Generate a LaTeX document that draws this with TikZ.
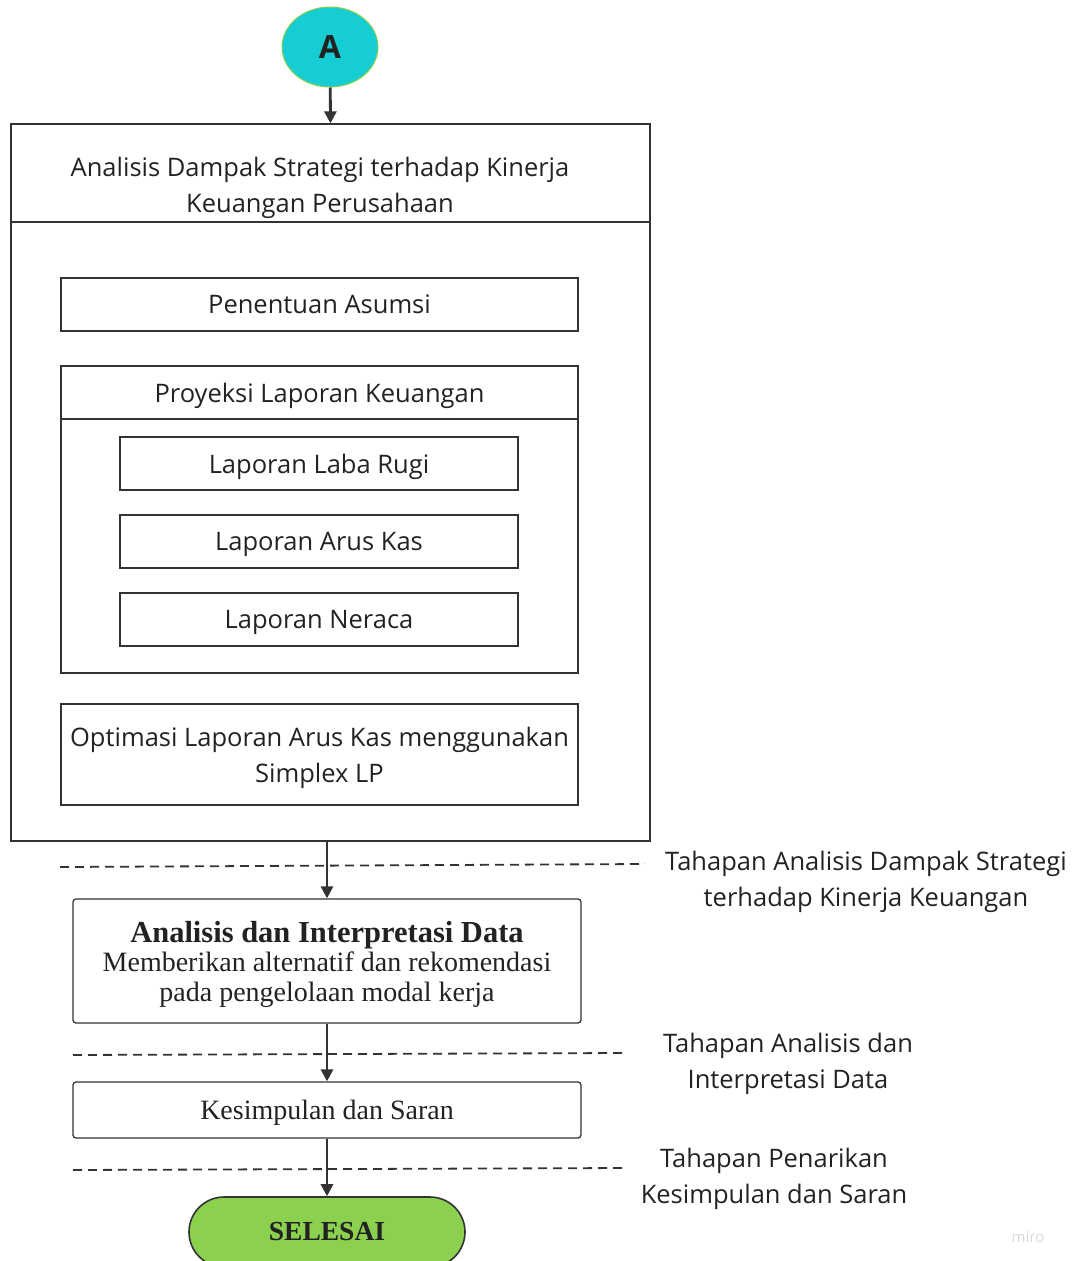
\documentclass[tikz,border=0pt]{standalone}
\usepackage{fontspec}
\setmainfont{Open Sans}
\newfontfamily\boxserif{Liberation Serif}
\usetikzlibrary{arrows.meta, positioning, shapes.geometric, calc}
\definecolor{startcyan}{HTML}{17CDD4}
\definecolor{startedge}{HTML}{8BD14F}
\definecolor{endgreen}{HTML}{8BD14F}
\definecolor{linegray}{HTML}{333333}
\definecolor{textgray}{HTML}{222222}

\begin{document}
\begin{tikzpicture}[x=1pt, y=-1pt,
    box/.style = {rectangle, draw=linegray, line width=1.3pt, inner sep=0pt, text depth=0pt, align=center, text=textgray, font=\fontsize{25.5}{36}\selectfont},
    serifbox/.style = {rectangle, draw=linegray, line width=1.3pt, rounded corners=3pt, inner sep=0pt, text depth=0pt, align=center, text=textgray, font=\boxserif\fontsize{28}{29.5}\selectfont},
    heading/.style = {align=center, text depth=0pt, text=textgray, font=\fontsize{25.5}{36}\selectfont},
    flow/.style = {draw=linegray, line width=2.8pt, -{Triangle[length=12pt,width=12pt]}},
    stage/.style = {draw=linegray, line width=1.8pt, dash pattern=on 9pt off 6pt},
    stagelabel/.style = {align=center, text depth=0pt, text=textgray, font=\fontsize{25.5}{36}\selectfont}
]
\useasboundingbox (0,0) rectangle (1075,1261);

% Start
\node (start) [ellipse, draw=startedge, line width=1pt, fill=startcyan, minimum width=96, minimum height=80, font=\bfseries\fontsize{32}{32}\selectfont, text=textgray] at (330,47) {A};

% Main stage box
\node (outer) [box, minimum width=639, minimum height=717] at (330.5,482.5) {};
\node (outerhead) [heading] at (320,185) {Analisis Dampak Strategi terhadap Kinerja\\Keuangan Perusahaan};
\draw [linegray, line width=1.3pt] (outer.west |- 0,222) -- (outer.east |- 0,222);

\node (asumsi) [box, minimum width=517, minimum height=53] at (319.5,304.5) {Penentuan Asumsi};

\node (proyeksi) [box, minimum width=517, minimum height=307] at (319.5,519.5) {};
\node (proyhead) [heading] at (319.5,393) {Proyeksi Laporan Keuangan};
\draw [linegray, line width=1.3pt] (proyeksi.west |- 0,419) -- (proyeksi.east |- 0,419);
\node (labarugi) [box, minimum width=398, minimum height=53] at (319,463.5) {Laporan Laba Rugi};
\node (aruskas) [box, minimum width=398, minimum height=53] at (319,541.5) {Laporan Arus Kas};
\node (neraca) [box, minimum width=398, minimum height=53] at (319,619.5) {Laporan Neraca};

\node (optimasi) [box, minimum width=517, minimum height=101] at (319.5,754.5) {Optimasi Laporan Arus Kas menggunakan\\Simplex LP};

% Lower steps
\node (analisis) [serifbox, minimum width=508, minimum height=124] at (327,961) {{\bfseries\fontsize{30.5}{29.5}\selectfont Analisis dan Interpretasi Data}\\Memberikan alternatif dan rekomendasi\\pada pengelolaan modal kerja};
\node (kesimpulan) [serifbox, minimum width=508, minimum height=56] at (327,1110) {Kesimpulan dan Saran};
\node (selesai) [rectangle, rounded corners=35pt, draw=linegray, line width=1.6pt, fill=endgreen, minimum width=276, minimum height=70, text=textgray, font=\boxserif\bfseries\fontsize{27.5}{27.5}\selectfont] at (327,1232) {SELESAI};

% Stage separators
\coordinate (s1a) at (60,867);
\coordinate (s1b) at (645,864);
\coordinate (s2a) at (73,1055);
\coordinate (s2b) at (625,1053);
\coordinate (s3a) at (73,1170);
\coordinate (s3b) at (625,1168);
\draw [stage] (s1a) -- (s1b);
\draw [stage] (s2a) -- (s2b);
\draw [stage] (s3a) -- (s3b);

\node (stage1) [stagelabel] at (866,879) {Tahapan Analisis Dampak Strategi\\terhadap Kinerja Keuangan};
\node (stage2) [stagelabel] at (788,1061) {Tahapan Analisis dan\\Interpretasi Data};
\node (stage3) [stagelabel] at (774,1176) {Tahapan Penarikan\\Kesimpulan dan Saran};

% Flow
\draw [flow] (start) -- (outer.north);
\draw [flow] (analisis.north |- outer.south) -- (analisis.north);
\draw [flow] (analisis) -- (kesimpulan);
\draw [flow] (kesimpulan) -- (selesai);

\node (miro) [text=black!15, font=\fontsize{15}{15}\selectfont] at (1028,1237) {miro};

\end{tikzpicture}
\end{document}
